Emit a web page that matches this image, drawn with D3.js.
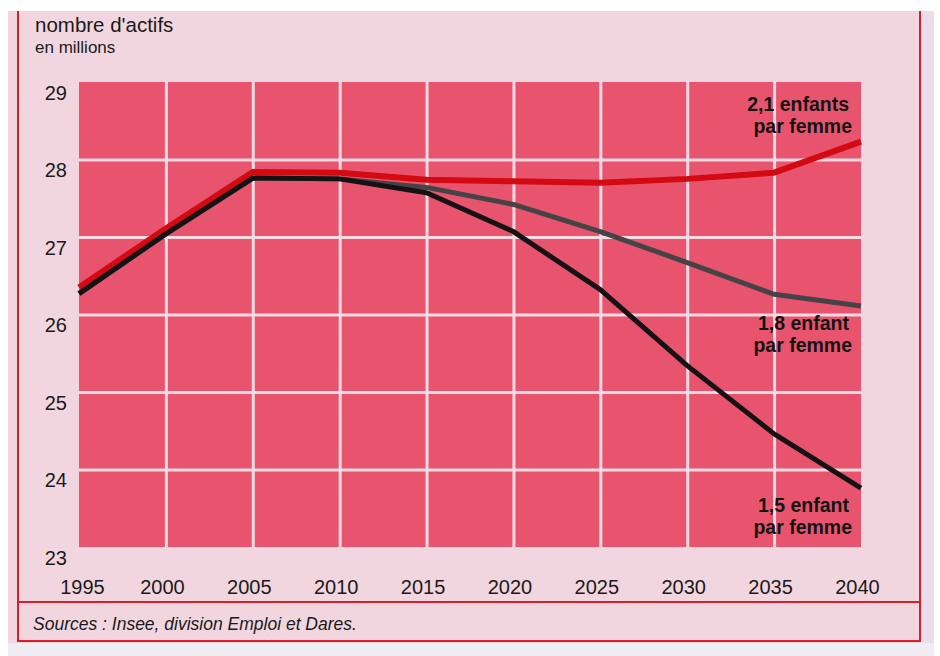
<!DOCTYPE html>
<html>
<head>
<meta charset="utf-8">
<script src="https://cdn.jsdelivr.net/npm/d3@7"></script>
<style>
  html, body { margin: 0; padding: 0; background: #ffffff; }
  svg { display: block; font-family: "Liberation Sans", Arial, Helvetica, sans-serif; }
</style>
</head>
<body>
<svg id="chart" width="940" height="656"></svg>
<script>
// Projected labour force (millions) under three fertility scenarios
const years = [1995, 2000, 2005, 2010, 2015, 2020, 2025, 2030, 2035, 2040];
const fertility21 = [26.35, 27.11, 27.84, 27.83, 27.74, 27.72, 27.70, 27.75, 27.83, 28.23];
const fertility18 = [26.27, 27.04, 27.76, 27.75, 27.64, 27.42, 27.07, 26.67, 26.26, 26.11];
const fertility15 = [26.27, 27.04, 27.76, 27.75, 27.57, 27.07, 26.32, 25.34, 24.46, 23.76];
const yTicks = [23, 24, 25, 26, 27, 28, 29];
const xTicks = [1995, 2000, 2005, 2010, 2015, 2020, 2025, 2030, 2035, 2040];
const seriesLabels = [
  ["2,1 enfants", "par femme"],
  ["1,8 enfant", "par femme"],
  ["1,5 enfant", "par femme"]
];

const svg = d3.select("#chart");

// page background and frame
svg.append("rect").attr("x", 8).attr("y", 11).attr("width", 926).attr("height", 637).attr("fill", "#f2d6df");
svg.append("rect").attr("x", 920).attr("y", 11).attr("width", 14).attr("height", 637).attr("fill", "#ebdde9");
svg.append("rect").attr("x", 8).attr("y", 643).attr("width", 926).attr("height", 13).attr("fill", "#efedf1");
const frame = svg.append("g").attr("stroke", "#d91e2b").attr("stroke-width", 2).attr("fill", "none");
frame.append("line").attr("x1", 18).attr("x2", 18).attr("y1", 11).attr("y2", 642);
frame.append("line").attr("x1", 920).attr("x2", 920).attr("y1", 11).attr("y2", 642);
frame.append("line").attr("x1", 18).attr("x2", 920).attr("y1", 602).attr("y2", 602);
frame.append("line").attr("x1", 18).attr("x2", 920).attr("y1", 641).attr("y2", 641);

// scales
const x = d3.scaleLinear().domain([1995, 2040]).range([79, 861]);
const y = d3.scaleLinear().domain([23, 29]).range([547, 82]);

// plot area
svg.append("rect")
  .attr("x", x(1995)).attr("y", y(29))
  .attr("width", x(2040) - x(1995)).attr("height", y(23) - y(29))
  .attr("fill", "#e8546e");

// white grid lines drawn as axes
const gridY = svg.append("g")
  .attr("transform", `translate(${x(1995)},0)`)
  .call(d3.axisLeft(y).tickValues(yTicks.slice(1, -1)).tickSize(-(x(2040) - x(1995))).tickFormat(""));
const gridX = svg.append("g")
  .attr("transform", `translate(0,${y(23)})`)
  .call(d3.axisBottom(x).tickValues(xTicks.slice(1, -1)).tickSize(-(y(23) - y(29))).tickFormat(""));
[gridY, gridX].forEach(g => {
  g.select(".domain").remove();
  g.selectAll("line").attr("stroke", "#f6dbe3").attr("stroke-width", 3);
});

// y axis labels
const yAxis = svg.append("g")
  .attr("transform", "translate(67,0)")
  .call(d3.axisLeft(y).tickValues(yTicks).tickSize(0).tickPadding(0).tickFormat(d3.format("d")));
yAxis.select(".domain").remove();
yAxis.selectAll("text")
  .attr("dy", "17px")
  .attr("font-size", 20)
  .attr("fill", "#1a1a1a")
  .attr("font-family", "'Liberation Sans', Arial, sans-serif");

// x axis labels
const xAxis = svg.append("g")
  .attr("transform", `translate(0,${y(23)})`)
  .call(d3.axisBottom(x).tickValues(xTicks).tickSize(0).tickFormat(d3.format("d")));
xAxis.select(".domain").remove();
xAxis.selectAll("text")
  .attr("y", 47).attr("dy", 0)
  .attr("dx", (d, i) => i === 0 ? 3 : -4)
  .attr("font-size", 20)
  .attr("fill", "#1a1a1a")
  .attr("font-family", "'Liberation Sans', Arial, sans-serif");

// lines
const line = d3.line().x((d, i) => x(years[i])).y(d => y(d));
const series = [
  { values: fertility21, color: "#d30a12", width: 6 },
  { values: fertility18, color: "#454345", width: 5 },
  { values: fertility15, color: "#141214", width: 5 }
];
svg.append("g").selectAll("path")
  .data(series)
  .join("path")
  .attr("d", d => line(d.values))
  .attr("fill", "none")
  .attr("stroke", d => d.color)
  .attr("stroke-width", d => d.width)
  .attr("stroke-linejoin", "round");

// end-of-line labels, one text element per line
const labelOffsets = [-31, 24, 24];
const labels = svg.append("g")
  .attr("font-size", 19.5)
  .attr("font-weight", "bold")
  .attr("fill", "#141414")
  .attr("text-anchor", "end");
series.forEach((s, i) => {
  const endY = y(s.values[s.values.length - 1]);
  labels.append("text").attr("x", 849).attr("y", endY + labelOffsets[i]).text(seriesLabels[i][0]);
  labels.append("text").attr("x", 852).attr("y", endY + labelOffsets[i] + 22).text(seriesLabels[i][1]);
});

// unit title
svg.append("text").attr("x", 35).attr("y", 32)
  .attr("font-size", 20.5).attr("fill", "#1a1a1a").text("nombre d'actifs");
svg.append("text").attr("x", 35).attr("y", 53)
  .attr("font-size", 17).attr("fill", "#1a1a1a").text("en millions");

// source
svg.append("text").attr("x", 33).attr("y", 630)
  .attr("font-size", 17.5).attr("font-style", "italic").attr("fill", "#1a1a1a")
  .text("Sources : Insee, division Emploi et Dares.");
</script>
</body>
</html>
